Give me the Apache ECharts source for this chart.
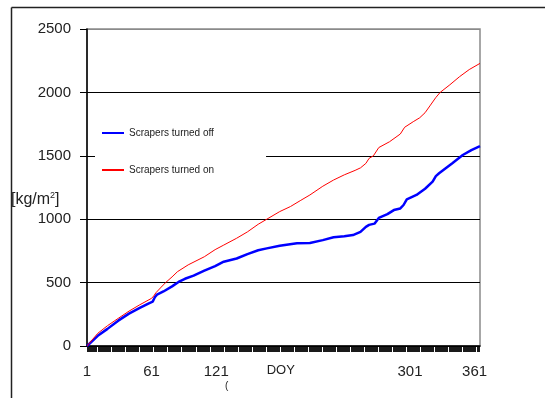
<!DOCTYPE html>
<html>
<head>
<meta charset="utf-8">
<script src="https://cdn.jsdelivr.net/npm/echarts@6/dist/echarts.min.js"></script>
<style>html,body{margin:0;padding:0;background:#fff;}#c{width:545px;height:398px;}</style>
</head>
<body>
<div id="c"></div>
<script>
var offDays = [1, 11, 20, 30, 40, 50, 58, 62, 64, 66, 72, 80, 86, 92, 100, 110, 120, 128, 140, 150, 160, 168, 180, 196, 208, 220, 230, 240, 248, 255, 260, 263, 268, 272, 280, 286, 292, 295, 298, 307, 315, 322, 325, 328, 340, 350, 358, 366];
var offValues = [0, 80, 135, 200, 255, 300, 335, 350, 385, 405, 430, 470, 505, 530, 555, 594, 630, 665, 690, 725, 755, 770, 790, 810, 812, 835, 857, 865, 875, 900, 940, 955, 965, 1010, 1040, 1072, 1085, 1112, 1157, 1191, 1240, 1296, 1340, 1362, 1440, 1506, 1545, 1577];
var onDays = [1, 11, 20, 30, 40, 50, 61, 63, 65, 70, 74, 80, 85, 95, 110, 120, 128, 140, 150, 160, 168, 180, 190, 199, 208, 220, 230, 240, 250, 255, 260, 263, 267, 272, 282, 292, 296, 304, 310, 315, 320, 325, 329, 338, 347, 356, 366];
var onValues = [0, 100, 160, 218, 275, 325, 376, 395, 420, 465, 500, 545, 586, 640, 704, 760, 796, 850, 900, 960, 1000, 1060, 1100, 1146, 1191, 1260, 1309, 1350, 1385, 1405, 1440, 1480, 1500, 1565, 1611, 1672, 1725, 1769, 1800, 1840, 1900, 1960, 2000, 2060, 2124, 2180, 2229];
var xTickLabels = {1: '1', 61: '61', 121: '121', 181: '{d|DOY}', 301: '301', 361: '361'};
var yTicks = [0, 500, 1000, 1500, 2000, 2500];
var seriesNames = ['Scrapers turned off', 'Scrapers turned on'];

function pairs(d, v) { return d.map(function (x, i) { return [x, v[i]]; }); }

var chart = echarts.init(document.getElementById('c'), null, {renderer: 'canvas'});
chart.setOption({
  animation: false,
  backgroundColor: '#fff',
  textStyle: {fontFamily: 'Liberation Sans, Arial, sans-serif'},
  grid: {left: 87, right: 65, top: 29, bottom: 52, show: true, borderColor: '#8a8a8a', borderWidth: 1.5, backgroundColor: 'transparent'},
  xAxis: {
    type: 'value', min: 1, max: 366, interval: 1,
    axisLine: {show: true, lineStyle: {color: '#000', width: 1.5}},
    axisTick: {show: true, length: 6, lineStyle: {color: '#000', width: 0.9}},
    splitLine: {show: false},
    axisLabel: {
      margin: 18, fontSize: 15, color: '#222', showMinLabel: true, showMaxLabel: false,
      formatter: function (v) { return xTickLabels[v] || ''; },
      rich: {d: {fontSize: 13, color: '#222'}}
    }
  },
  yAxis: {
    type: 'value', min: yTicks[0], max: yTicks[yTicks.length - 1], interval: 500,
    axisLine: {show: true, lineStyle: {color: '#000', width: 1.5}},
    axisTick: {show: true, length: 7, lineStyle: {color: '#000', width: 1}},
    splitLine: {show: true, lineStyle: {color: ['#000', '#000', '#000', '#000', '#000', '#8a8a8a'], width: 1.2}},
    axisLabel: {margin: 16, fontSize: 15, color: '#222', formatter: function (v) { return String(v); }}
  },
  legend: {
    orient: 'vertical', left: 95, top: 120,
    itemWidth: 22, itemHeight: 10, itemGap: 27,
    padding: [8, 52, 8, 6],
    backgroundColor: '#fff',
    textStyle: {fontSize: 10, color: '#222'},
    itemStyle: {opacity: 0},
    data: seriesNames
  },
  series: [
    {name: seriesNames[0], type: 'line', data: pairs(offDays, offValues), symbol: 'none', z: 3,
     lineStyle: {color: '#0000ff', width: 2.5}, itemStyle: {color: '#0000ff'}},
    {name: seriesNames[1], type: 'line', data: pairs(onDays, onValues), symbol: 'none', z: 4,
     lineStyle: {color: '#ff0000', width: 1}, itemStyle: {color: '#ff0000'}}
  ],
  graphic: [
    {type: 'line', shape: {x1: 11.5, y1: 7.5, x2: 545, y2: 7.5}, style: {stroke: '#222', lineWidth: 1.5}},
    {type: 'line', shape: {x1: 11.5, y1: 7.5, x2: 11.5, y2: 398}, style: {stroke: '#222', lineWidth: 1.5}},
    {type: 'text', left: 11, top: 191, style: {text: '[kg/m{s|2}]', font: '16px Liberation Sans, Arial, sans-serif', fill: '#222',
      rich: {s: {fontSize: 9, verticalAlign: 'top', padding: [0, 0, 8, 0]}}}},
    {type: 'text', left: 225, top: 381, style: {text: '(', font: '10px Liberation Sans, Arial, sans-serif', fill: '#222'}}
  ]
});
</script>
</body>
</html>
